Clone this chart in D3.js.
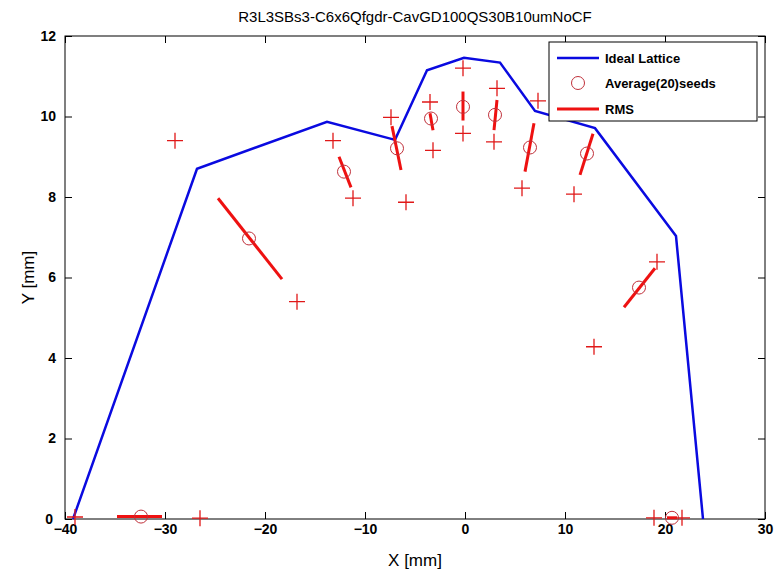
<!DOCTYPE html>
<html>
<head>
<meta charset="utf-8">
<script src="https://cdn.jsdelivr.net/npm/d3@7"></script>
<style>
  body { margin: 0; background: #fff; }
  .tick text { font-family: "Liberation Sans Narrow", "Liberation Sans", Arial, sans-serif; font-weight: bold; font-size: 14px; fill: #000; }
  .axisText { font-family: "Liberation Sans", Arial, sans-serif; font-size: 17px; fill: #000; }
  .legText { font-family: "Liberation Sans", Arial, sans-serif; font-weight: bold; font-size: 13px; fill: #000; }
</style>
</head>
<body>
<div id="chart"></div>
<script>
// ideal lattice outline
var idealX = [-39.2, -26.8, -13.8, -7.0, -3.8, -0.1, 3.5, 7.0, 13.0, 21.1, 23.8];
var idealY = [0, 8.7, 9.87, 9.42, 11.15, 11.46, 11.34, 10.14, 9.71, 7.03, 0];

// average of 20 seeds
var avgX = [-32.4, -21.6, -12.1, -6.8, -3.4, -0.2, 3.0, 6.5, 12.2, 17.4, 20.7];
var avgY = [0.06, 6.97, 8.63, 9.21, 9.95, 10.24, 10.04, 9.23, 9.08, 5.75, 0.03];

// rms segments (start / end)
var rmsX1 = [-34.8, -24.7, -12.6, -7.3, -3.5, -0.2, 3.2, 6.9, 12.8, 19.0, 20.2];
var rmsY1 = [0.06, 7.97, 9.0, 9.76, 10.08, 10.62, 10.41, 9.83, 9.57, 6.23, 0.03];
var rmsX2 = [-30.3, -18.3, -11.4, -6.4, -3.2, -0.2, 2.9, 6.0, 11.5, 15.9, 21.2];
var rmsY2 = [0.06, 5.96, 8.24, 8.67, 9.66, 9.9, 9.66, 8.63, 8.55, 5.26, 0.03];

// seed extremes (+ markers)
var seedX = [-39.0, -26.5, -29.0, -16.8, -13.2, -11.2, -7.4, -5.9, -3.5, -3.2, -0.2, -0.2, 3.2, 2.9, 7.3, 5.7, 10.9, 12.9, 19.2, 18.9, 21.7];
var seedY = [0.05, 0.02, 9.4, 5.4, 9.4, 7.97, 9.98, 7.87, 10.36, 9.16, 11.2, 9.58, 10.7, 9.37, 10.39, 8.22, 8.07, 4.28, 6.39, 0.03, 0.03];

var xTicks = [-40, -30, -20, -10, 0, 10, 20, 30];
var yTicks = [0, 2, 4, 6, 8, 10, 12];

var legendLabels = ["Ideal Lattice", "Average(20)seeds", "RMS"];

var svgWidth = 774;
var svgHeight = 575;
var margin = { top: 36, right: 9, bottom: 56, left: 65 };
var width = svgWidth - margin.left - margin.right;
var height = svgHeight - margin.top - margin.bottom;

var svg = d3.select("#chart")
    .append("svg")
    .attr("width", svgWidth)
    .attr("height", svgHeight);

var chartGroup = svg.append("g")
    .attr("transform", `translate(${margin.left}, ${margin.top})`);

var x = d3.scaleLinear().domain([-40, 30]).range([0, width]);
var y = d3.scaleLinear().domain([0, 12]).range([height, 0]);

// box
chartGroup.append("rect")
    .attr("width", width).attr("height", height)
    .attr("fill", "none").attr("stroke", "#000").attr("stroke-width", 1);

// axes with inward ticks
var bottomAxis = d3.axisBottom(x).tickValues(xTicks).tickSize(-7).tickPadding(5);
var topAxis = d3.axisTop(x).tickValues(xTicks).tickSize(-7).tickFormat("");
var leftAxis = d3.axisLeft(y).tickValues(yTicks).tickSize(-7).tickPadding(9);
var rightAxis = d3.axisRight(y).tickValues(yTicks).tickSize(-7).tickFormat("");

[[bottomAxis, `translate(0,${height})`], [topAxis, "translate(0,0)"],
 [leftAxis, "translate(0,0)"], [rightAxis, `translate(${width},0)`]].forEach(function(a) {
    var g = chartGroup.append("g").attr("transform", a[1]).call(a[0]);
    g.select(".domain").remove();
    g.selectAll(".tick line").attr("stroke", "#000");
    if (a[0] === leftAxis) {
        // keep the y "0" clear of the x "-40"
        g.selectAll(".tick text").filter(d => d === 0).attr("x", -12);
    }
});

// ideal lattice
var idealLine = d3.line().x(d => x(d[0])).y(d => y(d[1]));
chartGroup.append("path")
    .datum(d3.zip(idealX, idealY))
    .attr("d", idealLine)
    .attr("fill", "none")
    .attr("stroke", "#0a0ae0")
    .attr("stroke-width", 2.5);

// rms segments
chartGroup.selectAll(".rms")
    .data(d3.range(rmsX1.length))
    .enter()
    .append("line")
    .attr("x1", i => x(rmsX1[i]))
    .attr("y1", i => y(rmsY1[i]))
    .attr("x2", i => x(rmsX2[i]))
    .attr("y2", i => y(rmsY2[i]))
    .attr("stroke", "#ee1111")
    .attr("stroke-width", 3);

// averages
chartGroup.selectAll(".avg")
    .data(d3.zip(avgX, avgY))
    .enter()
    .append("circle")
    .attr("cx", d => x(d[0]))
    .attr("cy", d => y(d[1]))
    .attr("r", 6.5)
    .attr("fill", "none")
    .attr("stroke", "#c0303a")
    .attr("stroke-width", 1);

// seed markers
chartGroup.selectAll(".seed")
    .data(d3.zip(seedX, seedY))
    .enter()
    .append("path")
    .attr("d", d => {
        var px = x(d[0]), py = y(d[1]);
        return `M${px - 8},${py}H${px + 8}M${px},${py - 8}V${py + 8}`;
    })
    .attr("stroke", "#e01818")
    .attr("stroke-width", 1.3)
    .attr("fill", "none");

// labels
svg.append("text")
    .attr("x", margin.left + width / 2).attr("y", 22)
    .attr("text-anchor", "middle")
    .attr("class", "axisText")
    .style("font-size", "15px")
    .text("R3L3SBs3-C6x6Qfgdr-CavGD100QS30B10umNoCF");

svg.append("text")
    .attr("x", margin.left + width / 2).attr("y", 566)
    .attr("text-anchor", "middle")
    .attr("class", "axisText")
    .text("X [mm]");

svg.append("text")
    .attr("transform", `translate(34,${margin.top + height / 2}) rotate(-90)`)
    .attr("text-anchor", "middle")
    .attr("class", "axisText")
    .text("Y [mm]");

// legend
var legend = svg.append("g");
legend.append("rect")
    .attr("x", 549).attr("y", 42).attr("width", 208).attr("height", 79)
    .attr("fill", "#fff").attr("stroke", "#000").attr("stroke-width", 1);
var rowY = [58, 83, 109];
legend.append("line").attr("x1", 557).attr("x2", 599).attr("y1", rowY[0]).attr("y2", rowY[0])
    .attr("stroke", "#0a0ae0").attr("stroke-width", 2.5);
legend.append("circle").attr("cx", 578).attr("cy", rowY[1]).attr("r", 6.5)
    .attr("fill", "none").attr("stroke", "#c0303a");
legend.append("line").attr("x1", 557).attr("x2", 599).attr("y1", rowY[2]).attr("y2", rowY[2])
    .attr("stroke", "#ee1111").attr("stroke-width", 3);
legend.selectAll(".legText")
    .data(legendLabels)
    .enter()
    .append("text")
    .attr("class", "legText")
    .attr("x", 605)
    .attr("y", (d, i) => rowY[i] + 5)
    .text(d => d);
</script>
</body>
</html>
